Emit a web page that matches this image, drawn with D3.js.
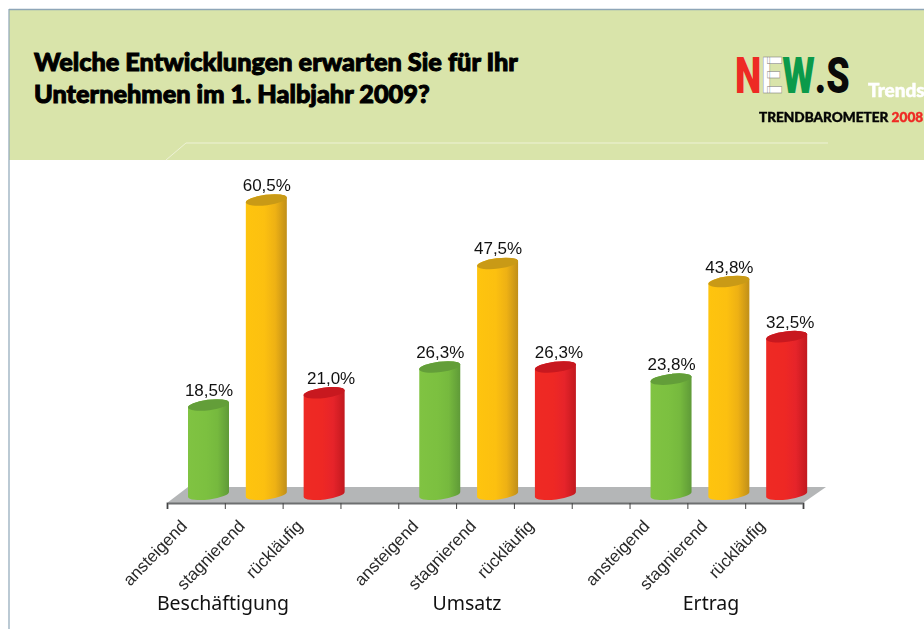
<!DOCTYPE html>
<html lang="de">

<head>
    <meta charset="UTF-8" />
    <title>Trendbarometer 2008</title>
    <script src="https://d3js.org/d3.v7.min.js"></script>
    <style>
        html, body { margin: 0; padding: 0; background: #fff; }
        svg { display: block; filter: blur(0.35px); }
    </style>
</head>

<body>
    <svg width="924" height="629"></svg>
</body>
<script>
    const titleLines = ["Welche Entwicklungen erwarten Sie für Ihr", "Unternehmen im 1. Halbjahr 2009?"]
    const groups = ["Beschäftigung", "Umsatz", "Ertrag"]
    const answers = ["ansteigend", "stagnierend", "rückläufig"]
    const beschaeftigung = [18.5, 60.5, 21.0]
    const umsatz = [26.3, 47.5, 26.3]
    const ertrag = [23.8, 43.8, 32.5]
    const groupValues = [beschaeftigung, umsatz, ertrag]
    const slots = groups.flatMap((g, i) => answers.map(a => `${i}|${a}`).concat(i < groups.length - 1 ? [`gap${i}`] : []))

    const data = groups.flatMap((g, i) => answers.map((a, j) => ({ group: i, answer: a, value: groupValues[i][j] })))

    const palette = {
        ansteigend: { stops: ["#80c342", "#7cc040", "#76b93e", "#5f9a38"], top: "#639e39" },
        stagnierend: { stops: ["#fec40e", "#fcc010", "#eeb114", "#c08f19"], top: "#c99a16" },
        "rückläufig": { stops: ["#ee2a24", "#ee2824", "#e6242a", "#c2191f"], top: "#c8181f" }
    }

    const svg = d3.select("svg")
    const defs = svg.append("defs")

    Object.entries(palette).forEach(([k, p]) => {
        const g = defs.append("linearGradient").attr("id", `grad-${k === "rückläufig" ? "rueck" : k}`)
        const offsets = [0, 0.45, 0.72, 1]
        g.selectAll("stop").data(p.stops).enter().append("stop")
            .attr("offset", (d, i) => offsets[i]).attr("stop-color", d => d)
    })

    // header band
    const header = svg.append("g")
    header.append("rect").attr("x", 9).attr("y", 10).attr("width", 915).attr("height", 150).attr("fill", "#d9e4aa")
    header.append("path").attr("d", "M9,9.5H924").attr("stroke", "#8ea6b8").attr("stroke-width", 1.5)
    header.append("path").attr("d", "M9,9V629").attr("stroke", "#8ea6b8").attr("stroke-width", 1.2)
    header.append("path").attr("d", "M166,160L186,143H828").attr("fill", "none").attr("stroke", "#eef2d6").attr("stroke-width", 1)

    header.selectAll("text.title").data(titleLines).enter().append("text")
        .attr("class", "title")
        .attr("x", 34)
        .attr("y", (d, i) => 71 + i * 32)
        .attr("font-family", "Lato, 'Open Sans', sans-serif")
        .attr("font-weight", 900)
        .attr("font-size", 25.3)
        .attr("stroke", "#000").attr("stroke-width", 1)
        .text(d => d)

    // logo
    const logo = svg.append("text").attr("y", 0)
        .attr("font-family", "Roboto, 'Liberation Sans', sans-serif")
        .attr("font-weight", 900).attr("font-size", 50)
    const logoParts = [["N", "#ee2a24", "none"], ["E", "#ffffff", "#777"], ["W", "#0b9a4a", "none"], [".S", "#0a0a0a", "none"]]
    logo.selectAll("tspan").data(logoParts).enter().append("tspan")
        .attr("fill", d => d[1]).attr("stroke", d => d[2]).attr("stroke-width", 0.5).text(d => d[0])
    const logoFit = 112 / logo.node().getComputedTextLength()
    logo.attr("transform", `translate(735,93) scale(${logoFit},1)`)

    svg.append("text").attr("x", 868).attr("y", 97)
        .attr("font-family", "Lato, sans-serif").attr("font-weight", 900).attr("font-size", 19)
        .attr("fill", "#ffffff").attr("stroke", "#ffffff").attr("stroke-width", 0.5).text("Trends")

    const baro = svg.append("text").attr("x", 759).attr("y", 122)
        .attr("font-family", "Lato, sans-serif").attr("font-weight", 900).attr("font-size", 13.6)
        .attr("stroke-width", 0.4)
    baro.append("tspan").attr("fill", "#050505").attr("stroke", "#050505").text("TRENDBAROMETER ")
    baro.append("tspan").attr("fill", "#ee2a24").attr("stroke", "#ee2a24").text("2008")

    // scales
    const x = d3.scaleBand().domain(slots).range([167, 803]).padding(0)
    const y = d3.scaleLinear().domain([0, 60.5]).range([495.3, 200])
    const tickScale = d3.scaleLinear().domain([0, slots.length]).range(x.range())
    const groupX = d3.scalePoint().domain(groups).range([223, 711])

    const barW = 41
    const depth = { x: 21, y: -16 }
    const floorY = 503
    const tilt = 2.6
    const ry = 5.2
    const slotOf = d => `${d.group}|${d.answer}`
    const barLeft = d => x(slotOf(d)) + 21
    const gradId = d => `url(#grad-${d.answer === "rückläufig" ? "rueck" : d.answer})`

    // floor
    svg.append("path")
        .attr("d", `M${x.range()[0]},${floorY}L${x.range()[0] + depth.x},${floorY + depth.y}H${x.range()[1] + depth.x + 2}L${x.range()[1]},${floorY}Z`)
        .attr("fill", "#b4b6b7")

    // axis
    const axis = svg.append("g").attr("transform", `translate(0,${floorY})`)
        .call(d3.axisBottom(tickScale).ticks(slots.length).tickSizeOuter(0).tickSize(6).tickFormat(""))
    axis.select(".domain").attr("stroke", "#6d6f70").attr("stroke-width", 2)
    axis.selectAll(".tick line").attr("stroke", "#444").attr("stroke-width", 1)

    // cylinders
    const cyl = d => {
        const l = barLeft(d), r = l + barW, t = y(d.value), b = y(0) - 1
        return `M${l},${t + tilt}V${b + tilt}A${barW / 2},${ry} -7 0 0 ${r},${b - tilt}V${t - tilt}A${barW / 2},${ry} -7 0 0 ${l},${t + tilt}Z`
    }
    const cap = d => {
        const l = barLeft(d), r = l + barW, t = y(d.value)
        return `M${l},${t + tilt}A${barW / 2},${ry} -7 0 0 ${r},${t - tilt}A${barW / 2},${ry} -7 0 0 ${l},${t + tilt}Z`
    }
    svg.append("g").selectAll("path").data(data).enter().append("path").attr("d", cyl).attr("fill", gradId)
    svg.append("g").selectAll("path").data(data).enter().append("path").attr("d", cap).attr("fill", d => palette[d.answer].top)

    // value labels, the 21,0% one sits off to the right in the original
    const fmt = v => v.toFixed(1).replace(".", ",") + "%"
    svg.append("g").selectAll("text").data(data).enter().append("text")
        .attr("x", d => barLeft(d) + barW / 2 + (d.value === 21 ? 7 : 0.5) + (d.answer === "rückläufig" && d.value !== 21 ? 3 : 0))
        .attr("y", d => y(d.value) - 9)
        .attr("text-anchor", "middle")
        .attr("font-family", "'Liberation Sans', sans-serif")
        .attr("font-size", 17)
        .attr("fill", "#111")
        .text(d => fmt(d.value))

    // rotated category labels
    svg.append("g").selectAll("text").data(data).enter().append("text")
        .attr("transform", d => `translate(${x(slotOf(d)) + 21},${floorY + 24}) rotate(-46)`)
        .attr("text-anchor", "end")
        .attr("font-family", "'Liberation Sans', sans-serif")
        .attr("font-size", 17)
        .attr("fill", "#2a2a2a")
        .text(d => d.answer)

    // group labels
    svg.append("g").selectAll("text").data(groups).enter().append("text")
        .attr("x", d => groupX(d))
        .attr("y", 610)
        .attr("text-anchor", "middle")
        .attr("font-family", "'Noto Sans', sans-serif")
        .attr("font-size", 19.5)
        .attr("fill", "#111")
        .text(d => d)
</script>

</html>
